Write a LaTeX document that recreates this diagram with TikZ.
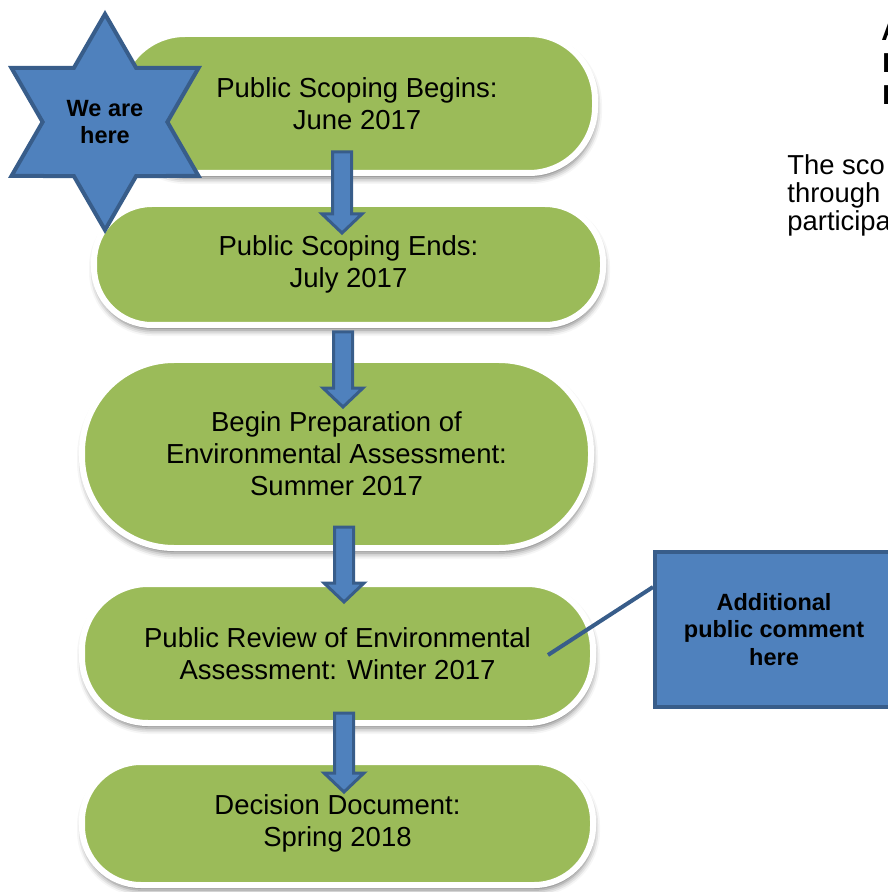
\documentclass[tikz,border=0pt]{standalone}
\usepackage{fontspec}
\setmainfont{Liberation Sans}
\usetikzlibrary{calc,shapes.geometric,shadows.blur}
\definecolor{sgreen}{HTML}{9BBB59}
\definecolor{sblue}{HTML}{4F81BD}
\definecolor{sdblue}{HTML}{385D8A}
\newcommand\blockarr[2]{%
  \draw[blockarrow] ($(#1)+(-9.5,0)$) -- ($(#2)+(-9.5,-19)$) -- ($(#2)+(-20,-19)$) -- (#2)
    -- ($(#2)+(20,-19)$) -- ($(#2)+(9.5,-19)$) -- ($(#1)+(9.5,0)$) -- cycle;}
\begin{document}
\begin{tikzpicture}[x=0.5pt,y=-0.5pt,
  stage/.style={rectangle, fill=sgreen, draw=white, line width=3pt, outer sep=0pt,
    inner sep=0pt, align=center, font=\fontsize{13.75}{16}\selectfont,
    blur shadow={shadow xshift=0.5pt, shadow yshift=-2.5pt, shadow blur radius=3pt, shadow opacity=55}},
  blockarrow/.style={fill=sblue, draw=sdblue, line width=1.5pt, line join=miter},
  bluebox/.style={fill=sblue, draw=sdblue, line width=2pt, inner sep=0pt, align=center,
    font=\bfseries\fontsize{11.75}{13.75}\selectfont},
  bodytext/.style={anchor=base west, inner sep=0pt, font=\fontsize{13.7}{14.5}\selectfont},
  headtext/.style={anchor=base west, inner sep=0pt, font=\bfseries\fontsize{13.7}{14.5}\selectfont}]
\useasboundingbox (0,0) rectangle (887,892);

% stages
\node[stage, minimum width=238pt, minimum height=69.5pt, rounded corners=33pt] (s1) at (357,103.5) {Public Scoping Begins:\\June 2017};
\node[stage, minimum width=254.5pt, minimum height=60.5pt, rounded corners=29pt] (s2) at (348.5,264.5) {Public Scoping Ends:\\July 2017};
\node[stage, minimum width=254.5pt, minimum height=94pt, rounded corners=46pt] (s3) at (336.5,454) {Begin Preparation of\\Environmental Assessment:\\Summer 2017};
\node[stage, minimum width=255.5pt, minimum height=69.5pt, rounded corners=33pt] (s4) at (337.5,653.5) {Public Review of Environmental\\Assessment: Winter 2017};
\node[stage, minimum width=255.5pt, minimum height=61.5pt, rounded corners=29.5pt] (s5) at (337.5,823.5) {Decision Document:\\Spring 2018};

% arrows
\coordinate (a1s) at ($(s1.south)+(-15,-21)$);
\coordinate (a1e) at ($(s2.north)+(-6.5,29)$);
\coordinate (a2s) at ($(s2.south)+(-5.5,7)$);
\coordinate (a2e) at ($(s3.north)+(6.5,47)$);
\coordinate (a3s) at ($(s3.south)+(7.5,-21)$);
\coordinate (a3e) at ($(s4.north)+(6.5,18)$);
\coordinate (a4s) at ($(s4.south)+(6.5,-10)$);
\coordinate (a4e) at ($(s5.north)+(6.5,30)$);
\blockarr{a1s}{a1e}
\blockarr{a2s}{a2e}
\blockarr{a3s}{a3e}
\blockarr{a4s}{a4e}

% callout
\coordinate (ptr) at (548,655);
\node[bluebox, minimum width=119pt, minimum height=77.5pt] (cb) at (774,629.5) {Additional\\public comment\\here};
\draw[sdblue, line width=2pt] (ptr) -- ([yshift=21.25pt]cb.west);

% star
\node[star, star points=6, star point ratio=1.732, minimum size=108pt, bluebox] (star) at (105,122) {We are\\here};

% text at the right edge
\node[headtext] (h1) at (881,41) {A};
\node[headtext] (h2) at (882,73) {P};
\node[headtext] (h3) at (882,105) {P};
\node[bodytext] (p1) at (787,175) {The sco};
\node[bodytext] (p2) at (787,203) {through};
\node[bodytext] (p3) at (787,231) {participa};
\end{tikzpicture}
\end{document}
